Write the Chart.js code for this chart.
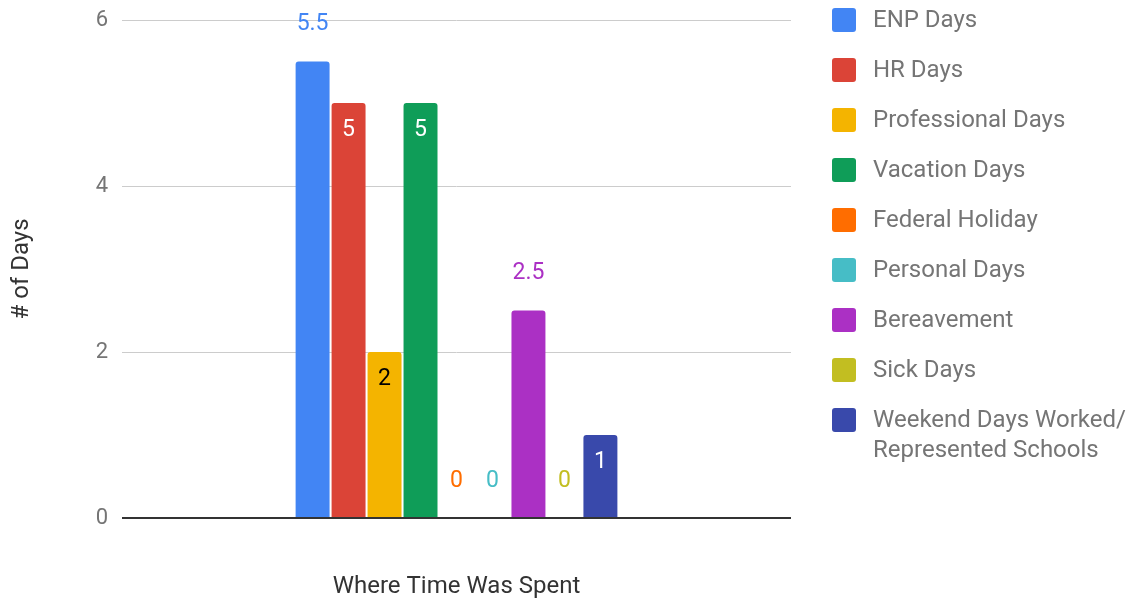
<!DOCTYPE html>
<html>
<head>
<meta charset="utf-8">
<script src="https://cdn.jsdelivr.net/npm/chart.js@4"></script>
<style>
  body { margin: 0; background: #fff; }
  #wrap { width: 1131px; height: 601px; }
</style>
</head>
<body>
<div id="wrap"><canvas id="myChart" width="1131" height="601"></canvas></div>
<script>
const categories = [''];
const seriesNames = ['ENP Days', 'HR Days', 'Professional Days', 'Vacation Days', 'Federal Holiday',
  'Personal Days', 'Bereavement', 'Sick Days', 'Weekend Days Worked/\nRepresented Schools'];
const seriesValues = [5.5, 5, 2, 5, 0, 0, 2.5, 0, 1];
const seriesColors = ['#4285f4', '#db4437', '#f4b400', '#0f9d58', '#ff6d00',
  '#46bdc6', '#ab30c4', '#c2be21', '#3949ab'];
const yTicks = [0, 2, 4, 6];

// where Google put each value label: inside the bar top or above it
const labelInside = [false, true, true, true, false, false, false, false, true];
const insideColor = ['#fff', '#fff', '#000', '#fff', '#fff', '#fff', '#fff', '#fff', '#fff'];

const font = 'Roboto';

const datasets = seriesNames.map((name, i) => ({
  label: name,
  data: [seriesValues[i]],
  backgroundColor: seriesColors[i],
  borderRadius: { topLeft: 3, topRight: 3, bottomLeft: 0, bottomRight: 0 },
  borderSkipped: 'start',
  categoryPercentage: 0.484,
  barPercentage: 0.944
}));

const valueLabels = {
  id: 'valueLabels',
  afterDatasetsDraw(chart) {
    const ctx = chart.ctx;
    ctx.save();
    ctx.font = '23px ' + font;
    ctx.textAlign = 'center';
    ctx.textBaseline = 'middle';
    chart.data.datasets.forEach((ds, i) => {
      const bar = chart.getDatasetMeta(i).data[0];
      const v = ds.data[0];
      if (labelInside[i]) {
        ctx.fillStyle = insideColor[i];
        ctx.fillText(String(v), bar.x, bar.y + 27);
      } else {
        ctx.fillStyle = ds.backgroundColor;
        ctx.fillText(String(v), bar.x, bar.y - 37);
      }
    });
    ctx.restore();
  }
};

const sideLegend = {
  id: 'sideLegend',
  afterDraw(chart) {
    const ctx = chart.ctx;
    ctx.save();
    ctx.font = '24px ' + font;
    ctx.textBaseline = 'middle';
    ctx.textAlign = 'left';
    chart.data.datasets.forEach((ds, i) => {
      const cy = 20 + i * 50;
      ctx.fillStyle = ds.backgroundColor;
      ctx.beginPath();
      ctx.roundRect(832, cy - 12, 24, 24, 3);
      ctx.fill();
      ctx.fillStyle = '#757575';
      ds.label.split('\n').forEach((line, k) => {
        ctx.fillText(line, 873, cy + 1 + k * 30);
      });
    });
    ctx.restore();
  }
};

new Chart(document.getElementById('myChart'), {
  type: 'bar',
  data: { labels: categories, datasets: datasets },
  options: {
    responsive: false,
    animation: false,
    layout: { padding: { left: 0, right: 340, top: 20, bottom: 0 } },
    plugins: {
      legend: { display: false },
      tooltip: { enabled: false }
    },
    scales: {
      x: {
        grid: { display: false },
        border: { display: false },
        ticks: { display: false },
        title: {
          display: true,
          text: 'Where Time Was Spent',
          color: '#333',
          font: { family: font, size: 24 },
          padding: { top: 0, bottom: 0 }
        },
        afterFit(scale) { scale.height = 83; }
      },
      y: {
        min: 0,
        max: 6,
        afterBuildTicks(scale) { scale.ticks = yTicks.map(v => ({ value: v })); },
        grid: {
          drawTicks: false,
          color: c => (c.tick && c.tick.value === 0 ? '#333' : '#ccc'),
          lineWidth: c => (c.tick && c.tick.value === 0 ? 2 : 1)
        },
        border: { display: false },
        ticks: {
          padding: 14,
          color: '#757575',
          font: { family: font, size: 22 }
        },
        title: {
          display: true,
          text: '# of Days',
          color: '#333',
          font: { family: font, size: 24 },
          padding: { top: 8, bottom: 0 }
        },
        afterFit(scale) {
          scale.width = 122;
          scale.paddingTop = 0;
          scale.paddingBottom = 0;
        }
      }
    }
  },
  plugins: [valueLabels, sideLegend]
});
</script>
</body>
</html>
